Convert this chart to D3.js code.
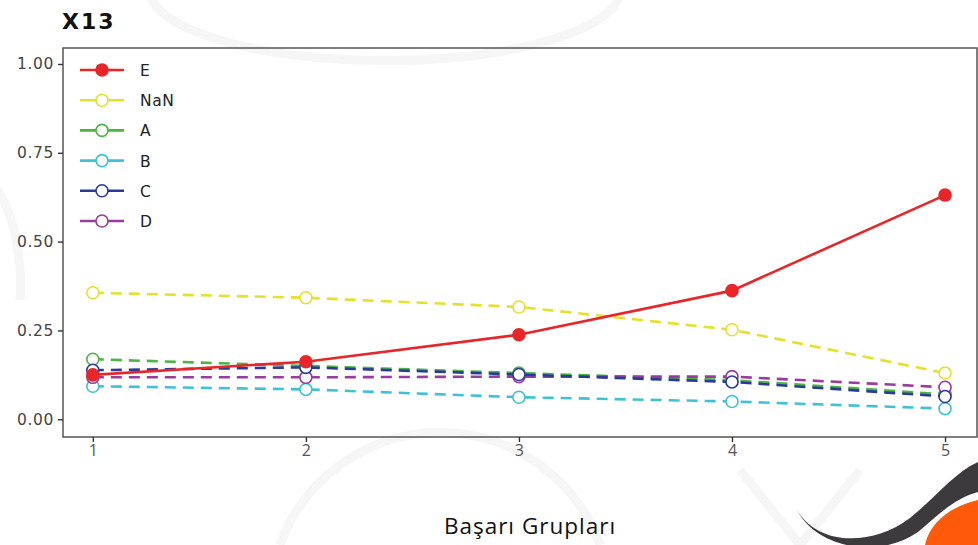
<!DOCTYPE html>
<html><head><meta charset="utf-8">
<script src="https://cdn.jsdelivr.net/npm/d3@7"></script>
<style>body{margin:0;background:#fff}svg{display:block}</style>
</head><body>
<script>
const groups = [1, 2, 3, 4, 5];
const seriesNames = ["E", "NaN", "A", "B", "C", "D"];
const valE   = [0.125, 0.162, 0.238, 0.362, 0.631];
const valNaN = [0.356, 0.342, 0.316, 0.252, 0.130];
const valA   = [0.169, 0.150, 0.130, 0.110, 0.070];
const valB   = [0.093, 0.084, 0.062, 0.050, 0.030];
const valC   = [0.138, 0.146, 0.126, 0.105, 0.064];
const valD   = [0.118, 0.118, 0.120, 0.120, 0.090];
const yTicks = [0, 0.25, 0.5, 0.75, 1.0];
const colors = ["#e8262a", "#e6e02a", "#4cb544", "#3ec2d4", "#2a3a9c", "#9a3c9e"];

const W = 978, H = 545;
const svg = d3.select("body").append("svg").attr("width", W).attr("height", H);

// faint watermark
const wm = svg.append("g").attr("fill", "none").attr("stroke", "#f6f6f6").attr("stroke-width", 9);
wm.append("path").attr("d", "M150,-10 A200,60 0 0 0 620,-10");
wm.append("path").attr("d", "M280,545 A170,170 0 0 1 600,545");
wm.append("path").attr("d", "M740,470 L800,545 M860,470 L800,545");
wm.append("path").attr("d", "M-10,180 A60,120 0 0 1 20,300");

// logo
svg.append("path").attr("fill", "#3d3a3d")
  .attr("d", "M796,508 C815,545 870,548 910,518 C935,498 955,472 978,462 L978,492 C955,498 938,515 918,532 C878,560 815,548 796,508 Z");
svg.append("path").attr("fill", "#ff5a0a")
  .attr("d", "M925,545 C930,520 955,505 978,500 L978,545 Z");

const m = {left: 63, top: 48, right: 977, bottom: 437};
const x = d3.scaleLinear().domain([0.86, 5.15]).range([m.left, m.right]);
const y = d3.scaleLinear().domain([-0.05, 1.045]).range([m.bottom, m.top]);

// frame
svg.append("rect").attr("x", m.left).attr("y", m.top)
  .attr("width", m.right - m.left).attr("height", m.bottom - m.top)
  .attr("fill", "none").attr("stroke", "#555").attr("stroke-width", 1.5);

// y axis
const ya = svg.append("g").attr("transform", `translate(${m.left},0)`)
  .call(d3.axisLeft(y).tickValues(yTicks).tickFormat(d3.format(".2f")).tickSize(5).tickPadding(4));
ya.select(".domain").remove();
ya.selectAll("text").attr("font-family", "DejaVu Sans").attr("font-size", 15.5)
  .attr("letter-spacing", 0.6).attr("fill", "#444");
ya.selectAll("line").attr("stroke", "#333").attr("stroke-width", 1.4);

// x axis
const xa = svg.append("g").attr("transform", `translate(0,${m.bottom})`)
  .call(d3.axisBottom(x).tickValues(groups).tickFormat(d3.format("d")).tickSize(5).tickPadding(3));
xa.select(".domain").remove();
xa.selectAll("text").attr("font-family", "Open Sans").attr("font-size", 16).attr("fill", "#555");
xa.selectAll("line").attr("stroke", "#333").attr("stroke-width", 1.4);

// title
svg.append("text").attr("x", 62).attr("y", 29).text("X13")
  .attr("font-family", "DejaVu Sans").attr("font-weight", "bold").attr("font-size", 22)
  .attr("letter-spacing", 2).attr("fill", "#111");

// axis label
svg.append("text").attr("x", 530).attr("y", 534).attr("text-anchor", "middle").text("Başarı Grupları")
  .attr("font-family", "Open Sans").attr("font-size", 22.5).attr("letter-spacing", 1)
  .attr("fill", "#111");

const allVals = [valE, valNaN, valA, valB, valC, valD];
const line = d3.line().x((d, i) => x(groups[i])).y(d => y(d));
const order = [1, 2, 3, 5, 4, 0];
order.forEach(k => {
  const vals = allVals[k];
  const g = svg.append("g");
  g.append("path").attr("d", line(vals)).attr("fill", "none").attr("stroke", colors[k])
    .attr("stroke-width", 2.6).attr("stroke-dasharray", k === 0 ? null : "11,7");
  g.selectAll("circle").data(vals).join("circle")
    .attr("cx", (d, i) => x(groups[i])).attr("cy", d => y(d)).attr("r", 6)
    .attr("fill", k === 0 ? colors[k] : "#fff").attr("stroke", colors[k]).attr("stroke-width", 1.6);
});

// legend
const lg = svg.append("g");
seriesNames.forEach((name, k) => {
  const ly = 70 + k * 30.2;
  lg.append("line").attr("x1", 80).attr("x2", 124).attr("y1", ly).attr("y2", ly)
    .attr("stroke", colors[k]).attr("stroke-width", 2.6);
  lg.append("circle").attr("cx", 102).attr("cy", ly).attr("r", 6)
    .attr("fill", k === 0 ? colors[k] : "#fff").attr("stroke", colors[k]).attr("stroke-width", 1.6);
  lg.append("text").attr("x", 140).attr("y", ly + 6).text(name)
    .attr("font-family", "DejaVu Sans").attr("font-size", 15.5).attr("letter-spacing", 0.6).attr("fill", "#222");
});
</script>
</body></html>
